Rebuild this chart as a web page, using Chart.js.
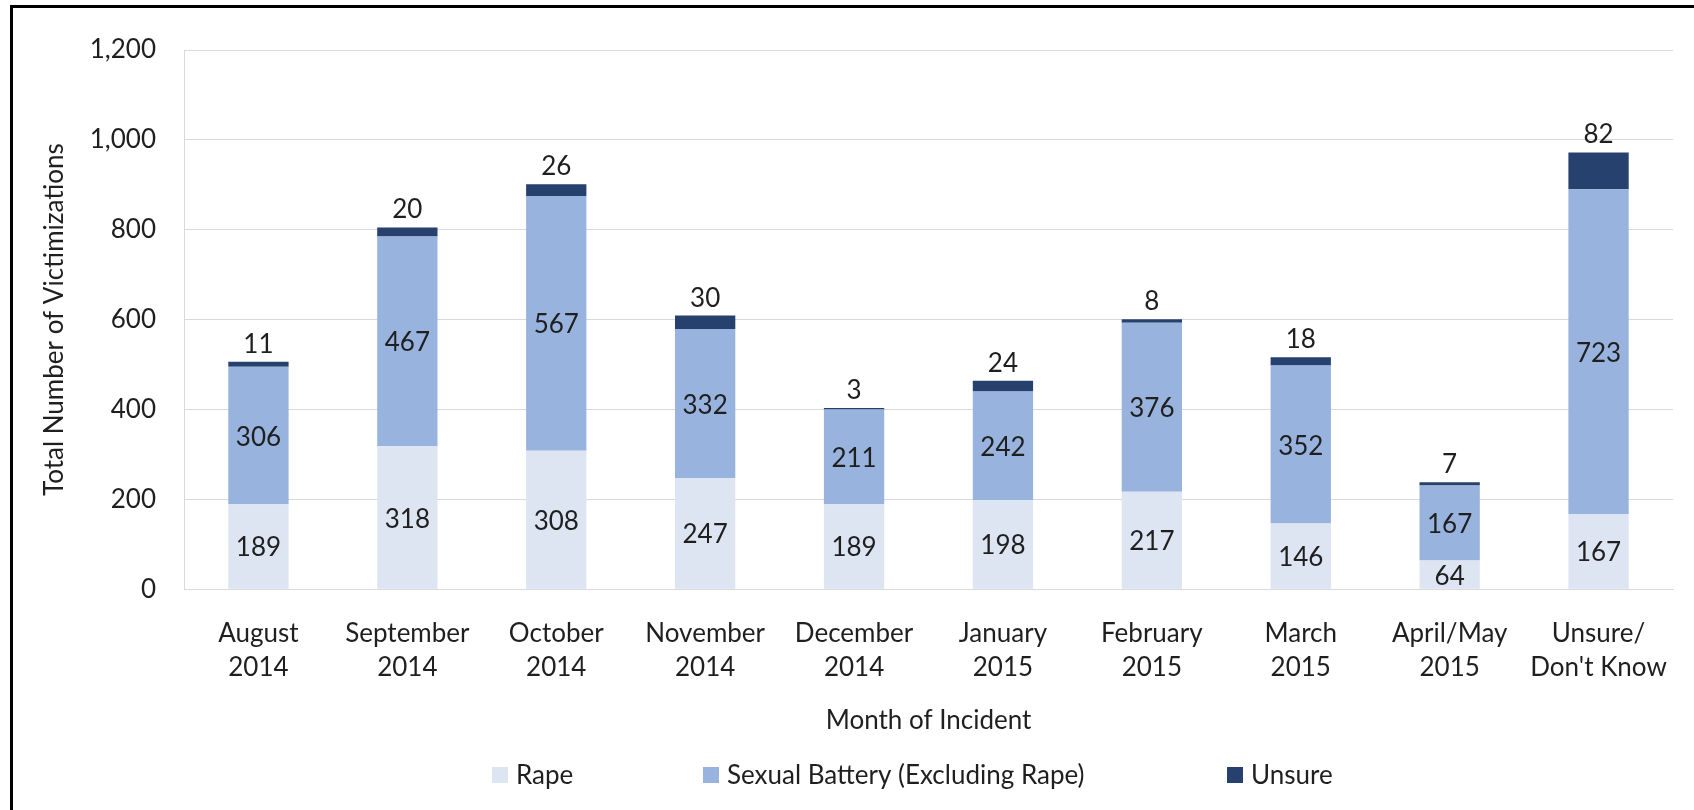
<!DOCTYPE html>
<html>
<head>
<meta charset="utf-8">
<script src="https://cdn.jsdelivr.net/npm/chart.js@4.4.1/dist/chart.umd.min.js"></script>
<style>
  html, body { margin: 0; padding: 0; background: #fff; }
  canvas { display: block; }
</style>
</head>
<body>
<canvas id="chart" width="1694" height="810"></canvas>
<script>
// Victimizations by month of incident
const months = [
    ['August', '2014'], ['September', '2014'], ['October', '2014'], ['November', '2014'],
    ['December', '2014'], ['January', '2015'], ['February', '2015'], ['March', '2015'],
    ['April/May', '2015'], ['Unsure/', "Don't Know"]
];
const rape = [189, 318, 308, 247, 189, 198, 217, 146, 64, 167];
const sexualBattery = [306, 467, 567, 332, 211, 242, 376, 352, 167, 723];
const unsure = [11, 20, 26, 30, 3, 24, 8, 18, 7, 82];
const yTicks = [0, 200, 400, 600, 800, 1000, 1200];

const FONT = 'Lato, "Noto Sans", sans-serif';
const TEXT = '#1f1f1f';
const GRID = '#d9d9d9';

// value labels: Rape / Battery centered in segment, Unsure above the stack
const segLabels = {
    id: 'segLabels',
    afterDatasetsDraw(chart) {
        const ctx = chart.ctx;
        ctx.save();
        ctx.font = '26px ' + FONT;
        ctx.fillStyle = TEXT;
        ctx.textAlign = 'center';
        ctx.textBaseline = 'alphabetic';
        chart.data.datasets.forEach((ds, i) => {
            chart.getDatasetMeta(i).data.forEach((bar, j) => {
                const v = ds.data[j];
                if (i < 2) {
                    ctx.fillText(v, bar.x, (bar.y + bar.base) / 2 + 10);
                } else {
                    ctx.fillText(v, bar.x, bar.y - 9);
                }
            });
        });
        ctx.restore();
    }
};

// legend spaced like the original, plus the outer frame
const legendAndFrame = {
    id: 'legendAndFrame',
    afterDraw(chart) {
        const ctx = chart.ctx;
        const boxX = [492, 703, 1227];
        ctx.save();
        ctx.font = '26px ' + FONT;
        ctx.textBaseline = 'middle';
        ctx.textAlign = 'left';
        chart.data.datasets.forEach((ds, i) => {
            ctx.fillStyle = ds.backgroundColor;
            ctx.fillRect(boxX[i], 767, 16, 16);
            ctx.fillStyle = TEXT;
            ctx.fillText(ds.label, boxX[i] + 24, 776);
        });
        ctx.strokeStyle = '#000';
        ctx.lineWidth = 3;
        ctx.strokeRect(11.5, 6.5, 1800, 1000);
        ctx.restore();
    }
};

new Chart(document.getElementById('chart'), {
    type: 'bar',
    data: {
        labels: months,
        datasets: [
            { label: 'Rape', data: rape, backgroundColor: '#dde5f3' },
            { label: 'Sexual Battery (Excluding Rape)', data: sexualBattery, backgroundColor: '#98b3de' },
            { label: 'Unsure', data: unsure, backgroundColor: '#27416f' }
        ]
    },
    options: {
        responsive: false,
        animation: false,
        layout: { padding: { left: 30, right: 21, top: 50, bottom: 70 } },
        datasets: { bar: { categoryPercentage: 1, barPercentage: 0.405, borderWidth: 0 } },
        scales: {
            x: {
                stacked: true,
                grid: { display: false },
                border: { display: true, color: GRID },
                ticks: { color: TEXT, font: { family: FONT, size: 26, lineHeight: 1.3 }, padding: 20, maxRotation: 0, autoSkip: false },
                title: { display: true, text: 'Month of Incident', color: TEXT, font: { family: FONT, size: 26 }, padding: { top: 0, bottom: 4 } }
            },
            y: {
                stacked: true,
                min: 0,
                max: 1200,
                afterFit(scale) { scale.width = 154; },
                afterBuildTicks(scale) { scale.ticks = yTicks.map(v => ({ value: v })); },
                grid: { color: GRID, drawTicks: false },
                border: { display: true, color: GRID },
                ticks: {
                    color: TEXT,
                    font: { family: FONT, size: 26 },
                    padding: 28,
                    callback: v => v.toLocaleString('en-US')
                },
                title: { display: true, text: 'Total Number of Victimizations', color: TEXT, font: { family: FONT, size: 26 }, padding: { top: 9, bottom: 0 } }
            }
        },
        plugins: {
            legend: { display: false },
            tooltip: { enabled: false }
        }
    },
    plugins: [segLabels, legendAndFrame]
});
</script>
</body>
</html>
